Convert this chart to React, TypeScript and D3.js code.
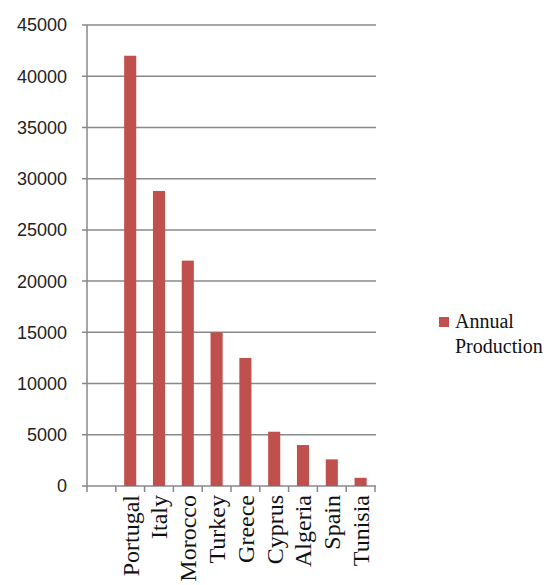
import React, { useEffect, useRef } from 'react';
import * as d3 from 'd3';

// first slot is an empty category in the original chart
const categories = ['', 'Portugal', 'Italy', 'Morocco', 'Turkey', 'Greece', 'Cyprus', 'Algeria', 'Spain', 'Tunisia'];
const production: (number | null)[] = [null, 42000, 28800, 22000, 15000, 12500, 5300, 4000, 2600, 800];
const yTicks = [0, 5000, 10000, 15000, 20000, 25000, 30000, 35000, 40000, 45000];
const seriesName = ['Annual', 'Production'];

const W = 548;
const H = 585;

const App: React.FC = () => {
  const svgRef = useRef<SVGSVGElement>(null);

  useEffect(() => {
    if (!svgRef.current) return;
    const svg = d3.select(svgRef.current);
    svg.selectAll('*').remove();

    const left = 87, right = 375, top = 25, bottom = 486;
    const barColor = '#c0504d';
    const gridColor = '#888888';

    const x = d3.scaleBand<number>()
      .domain(categories.map((_, i) => i))
      .range([left, right])
      .paddingInner(0.58)
      .paddingOuter(0.29);

    const y = d3.scaleLinear().domain([0, 45000]).range([bottom, top]);

    // gridlines
    svg.append('g')
      .selectAll('line')
      .data(yTicks)
      .enter().append('line')
      .attr('x1', left - 5)
      .attr('x2', right + 1)
      .attr('y1', d => y(d))
      .attr('y2', d => y(d))
      .attr('stroke', gridColor)
      .attr('stroke-width', 1.5);

    // y labels
    svg.append('g')
      .selectAll('text')
      .data(yTicks)
      .enter().append('text')
      .attr('x', 67)
      .attr('y', d => y(d))
      .attr('dy', '0.36em')
      .attr('text-anchor', 'end')
      .style('font-family', '"Liberation Sans", Arial, sans-serif')
      .style('font-size', '18px')
      .style('fill', '#222')
      .text(d => d);

    // y axis line
    svg.append('line')
      .attr('x1', left).attr('x2', left)
      .attr('y1', top).attr('y2', bottom)
      .attr('stroke', gridColor)
      .attr('stroke-width', 1.5);

    // x tick marks at slot boundaries
    const step = x.step();
    svg.append('g')
      .selectAll('line')
      .data(d3.range(categories.length + 1))
      .enter().append('line')
      .attr('x1', i => left + i * step)
      .attr('x2', i => left + i * step)
      .attr('y1', bottom)
      .attr('y2', bottom + 6)
      .attr('stroke', gridColor)
      .attr('stroke-width', 1.5);

    // bars
    svg.append('g')
      .selectAll('rect')
      .data(production.map((v, i) => ({ v, i })).filter(d => d.v != null))
      .enter().append('rect')
      .attr('x', d => x(d.i)!)
      .attr('width', x.bandwidth())
      .attr('y', d => y(d.v as number))
      .attr('height', d => bottom - y(d.v as number))
      .attr('fill', barColor);

    // category labels, rotated
    svg.append('g')
      .selectAll('text')
      .data(categories.map((c, i) => ({ c, i })).filter(d => d.c !== ''))
      .enter().append('text')
      .attr('transform', d => `translate(${x(d.i)! + x.bandwidth() / 2},${bottom + 9}) rotate(-90)`)
      .attr('dy', '0.35em')
      .attr('text-anchor', 'end')
      .style('font-family', '"Liberation Serif", "Times New Roman", serif')
      .style('font-size', '24px')
      .style('fill', '#111')
      .text(d => d.c);

    // legend
    const lg = svg.append('g');
    lg.append('rect')
      .attr('x', 439).attr('y', 317)
      .attr('width', 10).attr('height', 10)
      .attr('fill', barColor);
    lg.selectAll('text')
      .data(seriesName)
      .enter().append('text')
      .attr('x', 455)
      .attr('y', (_, i) => 328 + i * 25)
      .style('font-family', '"Liberation Serif", "Times New Roman", serif')
      .style('font-size', '20px')
      .style('fill', '#111')
      .text(d => d);
  }, []);

  return (
    <div style={{ position: 'absolute', left: 0, top: 0 }}>
      <svg ref={svgRef} width={W} height={H} style={{ display: 'block', background: '#fff' }} />
    </div>
  );
};

export default App;
